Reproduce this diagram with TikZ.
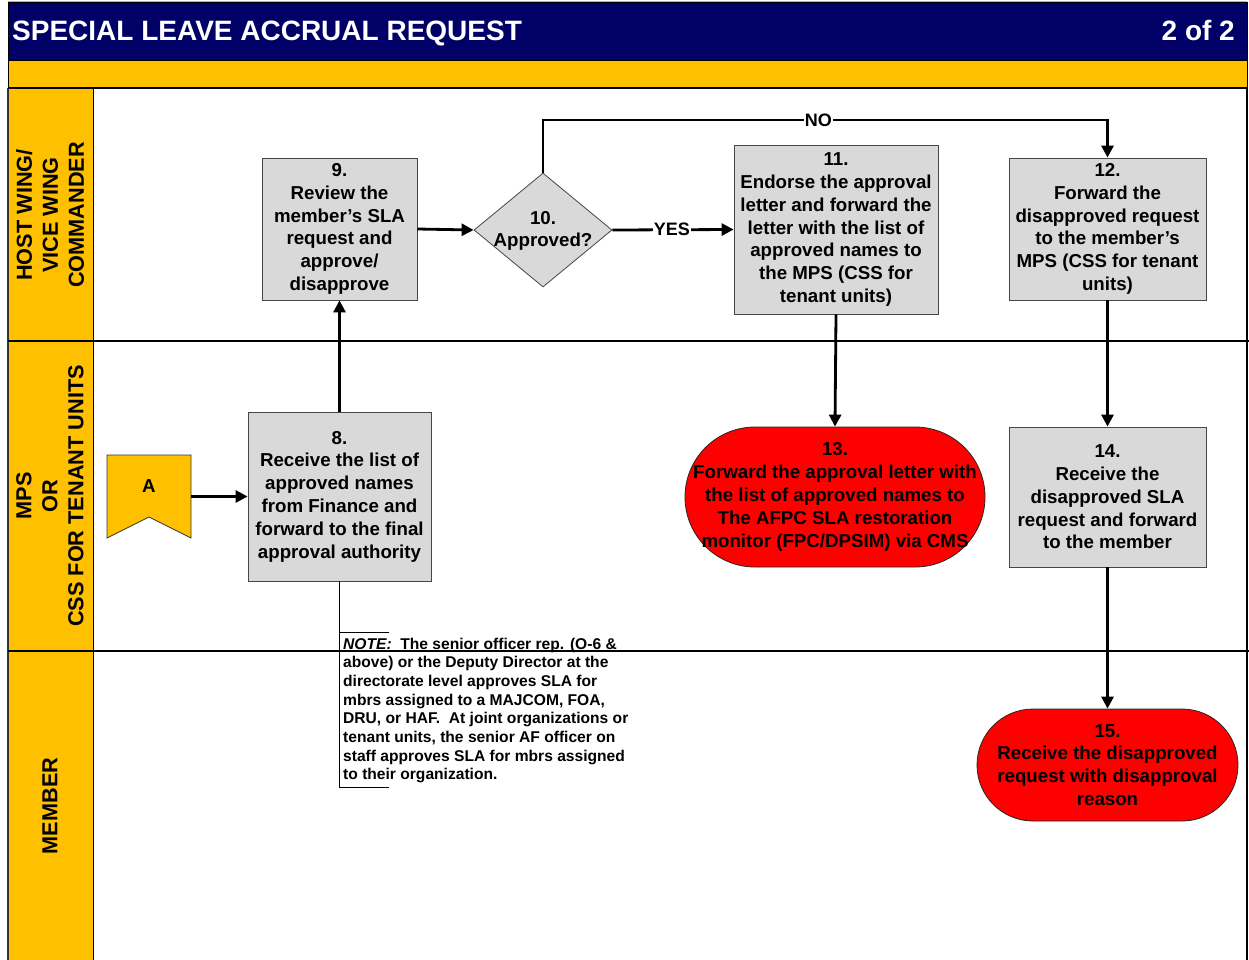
\documentclass[tikz,border=0pt]{standalone}
\usepackage{fontspec}
\setmainfont{Liberation Sans}
\usetikzlibrary{shapes.geometric,arrows.meta}
\definecolor{navy}{RGB}{0,0,102}
\definecolor{gold}{RGB}{255,192,0}
\definecolor{boxgray}{RGB}{217,217,217}
\definecolor{edgegray}{RGB}{70,70,70}
\definecolor{stopred}{RGB}{255,0,0}
\begin{document}
\begin{tikzpicture}[x=1pt,y=-1pt,
  stepbox/.style={draw=edgegray,line width=0.8pt,fill=boxgray,inner sep=0pt,align=center,
    font=\bfseries\fontsize{18.7}{22.8}\selectfont},
  endnode/.style={draw=black!85,line width=0.8pt,fill=stopred,inner sep=0pt,align=center,
    font=\bfseries\fontsize{18.7}{22.8}\selectfont},
  flow/.style={line width=2.8pt,-{Triangle[length=12pt,width=12pt]}},
  lanelabel/.style={rotate=90,align=center,font=\bfseries\fontsize{21.7}{26}\selectfont},
  lbl/.style={fill=white,inner sep=1pt,font=\bfseries\fontsize{18}{20}\selectfont},
  laneline/.style={line width=1.2pt,black}
]
\useasboundingbox (0,0) rectangle (1249,959);
\fill[white] (0,0) rectangle (1249,959);

% header
\fill[gray!60] (8,1) rectangle (1247,2.5);
\draw[fill=navy,draw=black,line width=0.8pt] (8,2.5) rectangle (1247,60);
\draw[fill=gold,draw=black,line width=1pt] (8,60) rectangle (1247,88);
\node[anchor=base west,inner sep=0pt,text=white,font=\bfseries\fontsize{28}{30}\selectfont] (title) at (12,40) {SPECIAL LEAVE ACCRUAL REQUEST};
\node[anchor=base east,inner sep=0pt,text=white,font=\bfseries\fontsize{28}{30}\selectfont] (page) at (1235,40) {2 of 2};

% lanes
\draw[fill=gold,draw=black,line width=1pt] (8,88) rectangle (93,962);
\draw[line width=1.6pt,black!80] (8,88) -- (8,962);
\draw[line width=1.2pt] (1247,88) -- (1247,962);
\draw[laneline] (8,88) -- (1247,88);
\draw[laneline] (8,341) -- (1249,341);
\draw[laneline] (8,651) -- (1249,651);

\node[lanelabel] (lane1) at (50,215) {HOST WING/\\VICE WING\\COMMANDER};
\node[lanelabel] (lane2) at (50,496) {MPS\\OR\\CSS FOR TENANT UNITS};
\node[lanelabel] (lane3) at (50,806) {MEMBER};

% connector A
\draw[fill=gold,draw=black!80,line width=0.8pt] (107,455) -- (191,455) -- (191,538) -- (149,517) -- (107,538) -- cycle;
\node[font=\bfseries\fontsize{18.7}{22.8}\selectfont,inner sep=0pt] (A) at (149,486) {A};
\coordinate (aR) at (191,496.5);

% process nodes
\node[stepbox,minimum width=155pt,minimum height=142pt] (n9) at (339.5,229)
  {9.\\Review the\\member’s SLA\\request and\\approve/\\disapprove};
\node[diamond,draw=edgegray,line width=0.8pt,fill=boxgray,inner sep=0pt,
  minimum width=138pt,minimum height=114pt] (n10) at (543,230) {};
\node[align=center,inner sep=0pt,font=\bfseries\fontsize{18.7}{22.8}\selectfont] (t10) at (543,231) {10.\\Approved?};
\node[stepbox,minimum width=204pt,minimum height=169pt] (n11) at (836,229.5)
  {11.\\Endorse the approval\\letter and forward the\\letter with the list of\\approved names to\\the MPS (CSS for\\tenant units)};
\node[stepbox,minimum width=197pt,minimum height=142pt] (n12) at (1107.5,229)
  {12.\\Forward the\\disapproved request\\to the member’s\\MPS (CSS for tenant\\units)};
\node[stepbox,minimum width=183pt,minimum height=169pt] (n8) at (339.5,496.5)
  {8.\\Receive the list of\\approved names\\from Finance and\\forward to the final\\approval authority};
\node[endnode,minimum width=300pt,minimum height=140pt,rounded corners=70pt] (n13) at (835,497)
  {13.\\Forward the approval letter with\\the list of approved names to\\The AFPC SLA restoration\\monitor (FPC/DPSIM) via CMS};
\node[stepbox,minimum width=197pt,minimum height=140pt] (n14) at (1107.5,497)
  {14.\\Receive the\\disapproved SLA\\request and forward\\to the member};
\node[endnode,minimum width=261pt,minimum height=112pt,rounded corners=56pt] (n15) at (1107.5,765)
  {15.\\Receive the disapproved\\request with disapproval\\reason};

% note
\coordinate (noteB) at (339.5,787);
\draw[line width=0.8pt] (n8.south) -- (noteB) -- ++(49,0);
\draw[line width=0.8pt] (339.5,632) -- ++(49,0);
\node[anchor=north west,align=left,inner sep=0pt,font=\bfseries\fontsize{15.6}{18.7}\selectfont] (note) at (343,637.5)
  {\textit{NOTE:}\ \ The senior officer rep. (O-6 \&\\above) or the Deputy Director at the\\directorate level approves SLA for\\mbrs assigned to a MAJCOM, FOA,\\DRU, or HAF.\ \ At joint organizations or\\tenant units, the senior AF officer on\\staff approves SLA for mbrs assigned\\to their organization.};

% connectors
\draw[flow] (aR) -- (n8.west);
\draw[flow] (n8.north) -- (n9.south);
\draw[flow] (n9.east) -- (n10.west);
\draw[flow] (n10.east) -- node[lbl,pos=0.49]{YES} (n11.west);
\draw[flow] (n10.north) -- (n10.north |- 0,120) -- node[lbl,pos=0.488]{NO} (n12.north |- 0,120) -- (n12.north);
\draw[flow] (n11.south) -- (n13.north);
\draw[flow] (n12.south) -- (n14.north);
\draw[flow] (n14.south) -- (n15.north);
\end{tikzpicture}
\end{document}
